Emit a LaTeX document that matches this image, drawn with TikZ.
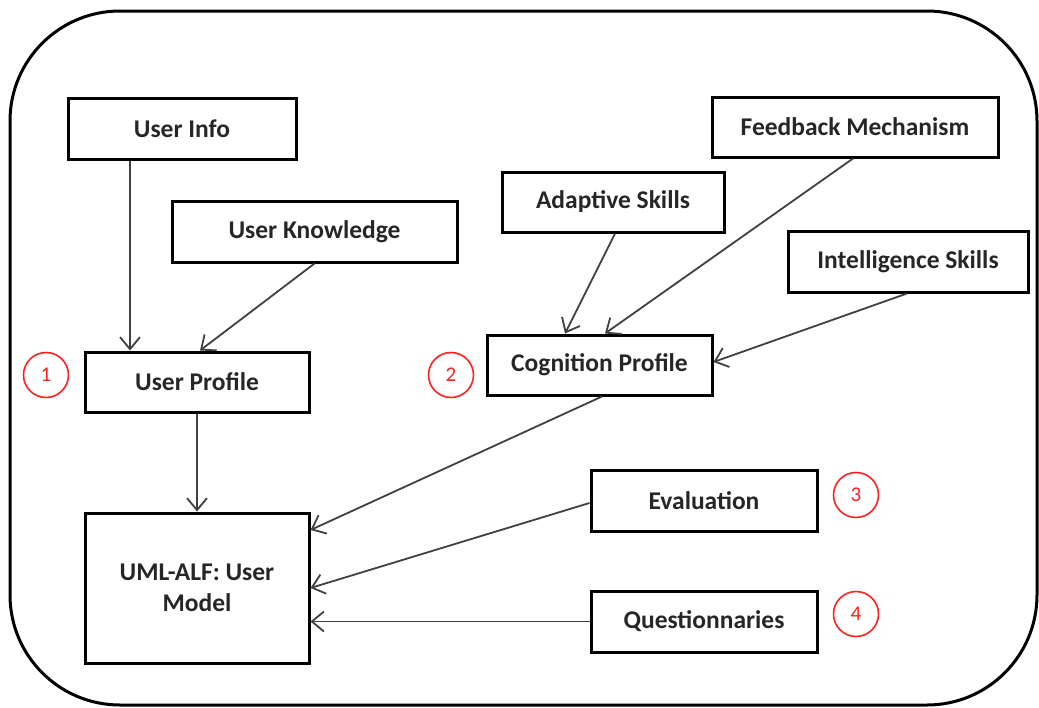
\documentclass[tikz,border=0pt]{standalone}
\usepackage{fontspec}
\setmainfont{Carlito}
\usetikzlibrary{arrows.meta}
\definecolor{linegray}{HTML}{404040}
\definecolor{txtgray}{HTML}{262626}
\definecolor{numred}{HTML}{FF2020}
\begin{document}
\begin{tikzpicture}[x=1pt,y=-1pt,
  box/.style={draw=black, line width=3pt, inner sep=0pt, align=center,
    text=txtgray, font=\bfseries\fontsize{25.5}{31}\selectfont},
  num/.style={draw=numred, circle, line width=1.6pt, minimum size=45pt, inner sep=0pt,
    text=numred, font=\fontsize{21}{23}\selectfont},
  conn/.style={draw=linegray, line width=1.8pt,
    -{Straight Barb[length=12pt,width=20pt,line width=1.8pt]}}]
\useasboundingbox (0,0) rectangle (1039,707);
\draw[line width=3pt, rounded corners=110pt] (10,11) rectangle (1037,705);

\node[box, minimum width=228pt, minimum height=61pt] (ui) at (182,128.5) {User Info};
\node[box, minimum width=285pt, minimum height=61pt] (uk) at (314.5,231.5) {User Knowledge};
\node[box, minimum width=224pt, minimum height=60pt] (up) at (197,382) {User Profile};
\node[box, minimum width=224pt, minimum height=150pt] (uml) at (197,588) {UML-ALF: User\\Model};
\node[box, minimum width=222pt, minimum height=60pt] (as) at (613,202) {Adaptive Skills};
\node[box, minimum width=286pt, minimum height=60pt] (fb) at (855,127) {Feedback Mechanism};
\node[box, minimum width=240pt, minimum height=61pt] (is) at (908,261.5) {Intelligence Skills};
\node[box, minimum width=225pt, minimum height=60pt] (cp) at (599.5,365) {Cognition Profile};
\node[box, minimum width=226pt, minimum height=61pt] (ev) at (704,500.5) {Evaluation};
\node[box, minimum width=226pt, minimum height=61pt] (qu) at (704,621.5) {Questionnaries};

\node[num] (n1) at (46,375) {1};
\node[num] (n2) at (451,375) {2};
\node[num] (n3) at (856,495) {3};
\node[num] (n4) at (856,614) {4};

\draw[conn] ([xshift=-52pt]ui.south) -- ([xshift=-67pt]up.north);
\draw[conn] (uk.south) -- ([xshift=3pt]up.north);
\draw[conn] (up.south) -- (uml.north);
\draw[conn] ([xshift=2pt]as.south) -- ([xshift=-34.5pt]cp.north);
\draw[conn] ([xshift=-2pt]fb.south) -- ([xshift=5.5pt]cp.north);
\draw[conn] ([xshift=-1pt]is.south) -- ([yshift=3pt]cp.east);
\draw[conn] ([xshift=2.5pt]cp.south) -- ([yshift=58pt]uml.east);
\draw[conn] ([yshift=-2.5pt]ev.west) -- (uml.east);
\draw[conn] (qu.west) -- ([yshift=-33.5pt]uml.east);
\end{tikzpicture}
\end{document}
